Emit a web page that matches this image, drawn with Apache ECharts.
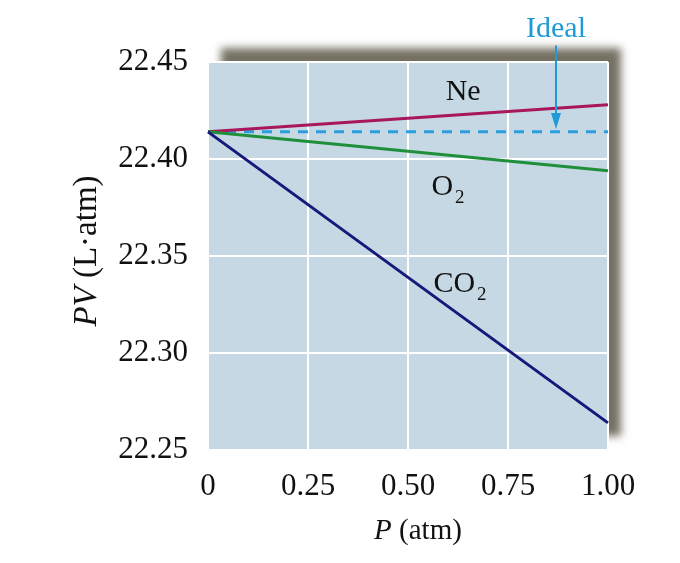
<!DOCTYPE html>
<html><head><meta charset="utf-8">
<script src="https://cdn.jsdelivr.net/npm/echarts@6/dist/echarts.min.js"></script>
<style>html,body{margin:0;padding:0;background:#fff}#c{width:680px;height:563px}</style>
</head><body><div id="c"></div>
<script>
var pressures = [0, 0.25, 0.5, 0.75, 1.0];
var neValues = [22.414, 22.4175, 22.421, 22.4245, 22.428];
var o2Values = [22.414, 22.409, 22.404, 22.399, 22.394];
var co2Values = [22.414, 22.3765, 22.339, 22.3015, 22.264];
var idealValues = [22.414, 22.414, 22.414, 22.414, 22.414];
var xTickLabels = ['0', '0.25', '0.50', '0.75', '1.00'];
var yTickLabels = ['22.25', '22.30', '22.35', '22.40', '22.45'];
var seriesNames = ['Ideal', 'Ne', 'O2', 'CO2'];

function pairs(vals){ return pressures.map(function(p,i){ return [p, vals[i]]; }); }

var FONT = '"Liberation Serif", "DejaVu Serif", serif';
var chart = echarts.init(document.getElementById('c'), null, {renderer:'canvas'});
var option = {
  animation: false,
  backgroundColor: '#ffffff',
  grid: {
    left: 208, right: 72, top: 62, bottom: 113,
    show: true, backgroundColor: '#c5d8e4', borderWidth: 0,
    shadowBlur: 8, shadowColor: 'rgba(110,106,92,0.95)', shadowOffsetX: 13, shadowOffsetY: -14
  },
  xAxis: {
    type: 'value', min: 0, max: 1, interval: 0.25,
    axisLine: {show: false}, axisTick: {show: false},
    splitLine: {show: true, lineStyle: {color: '#ffffff', width: 2}},
    axisLabel: {
      margin: 21, fontFamily: FONT, fontSize: 31, color: '#111',
      formatter: function(v){ var i = Math.round(v/0.25); return xTickLabels[i]; }
    },
    name: '{i|P} (atm)', nameLocation: 'middle', nameGap: 67,
    nameTextStyle: {fontFamily: FONT, fontSize: 29, color: '#111', padding: [0, 0, 0, 20],
      rich: {i: {fontFamily: FONT, fontSize: 29, fontStyle: 'italic', color: '#111'}}}
  },
  yAxis: {
    type: 'value', min: 22.25, max: 22.45, interval: 0.05,
    axisLine: {show: false}, axisTick: {show: false},
    splitLine: {show: true, lineStyle: {color: '#ffffff', width: 2}},
    axisLabel: {
      margin: 20, fontFamily: FONT, fontSize: 31, color: '#111',
      formatter: function(v){ var i = Math.round((v-22.25)/0.05); return yTickLabels[i]; }
    },
    name: '{i|PV} (L·atm)', nameLocation: 'middle', nameGap: 104, nameRotate: 90,
    nameTextStyle: {fontFamily: FONT, fontSize: 33, color: '#111', padding: [0, 0, 0, 10],
      rich: {i: {fontFamily: FONT, fontSize: 33, fontStyle: 'italic', color: '#111'}}}
  },
  series: [
    {name: seriesNames[0], type: 'line', data: pairs(idealValues), showSymbol: false, z: 2,
      lineStyle: {color: '#2a9fe0', width: 3, type: [10, 8]}},
    {name: seriesNames[1], type: 'line', data: pairs(neValues), showSymbol: false, z: 3,
      lineStyle: {color: '#a8175c', width: 3}},
    {name: seriesNames[2], type: 'line', data: pairs(o2Values), showSymbol: false, z: 3,
      lineStyle: {color: '#1f8f3a', width: 3}},
    {name: seriesNames[3], type: 'line', data: pairs(co2Values), showSymbol: false, z: 4,
      lineStyle: {color: '#16187a', width: 3}}
  ]
};
chart.setOption(option);

// annotations (data coordinates)
var annotations = [
  {text: 'Ne', at: [0.638, 22.4345], color: '#111'},
  {text: 'O{s|2}', at: [0.6, 22.3855], color: '#111'},
  {text: 'CO{s|2}', at: [0.63, 22.3355], color: '#111'},
  {text: 'Ideal', at: [0.87, 22.467], color: '#1e9ad6'}
];
var arrowFrom = [0.87, 22.4585];
var arrowTo = [0.87, 22.4155];

var g = [];
annotations.forEach(function(a){
  var p = chart.convertToPixel({gridIndex: 0}, a.at);
  g.push({type: 'text', x: p[0], y: p[1], z: 100,
    style: {text: a.text, fill: a.color, font: '30px ' + FONT, align: 'center', verticalAlign: 'middle',
      rich: {s: {fontSize: 19, fontFamily: FONT, fill: a.color, padding: [22, 0, 0, 2]}}}});
});
var p1 = chart.convertToPixel({gridIndex: 0}, arrowFrom);
var p2 = chart.convertToPixel({gridIndex: 0}, arrowTo);
g.push({type: 'line', z: 100, shape: {x1: p1[0], y1: p1[1], x2: p2[0], y2: p2[1] - 10},
  style: {stroke: '#1e9ad6', lineWidth: 2}});
g.push({type: 'polygon', z: 100, shape: {points: [[p2[0]-5, p2[1]-16], [p2[0]+5, p2[1]-16], [p2[0], p2[1]]]},
  style: {fill: '#1e9ad6'}});
chart.setOption({graphic: g});
</script>
</body></html>
